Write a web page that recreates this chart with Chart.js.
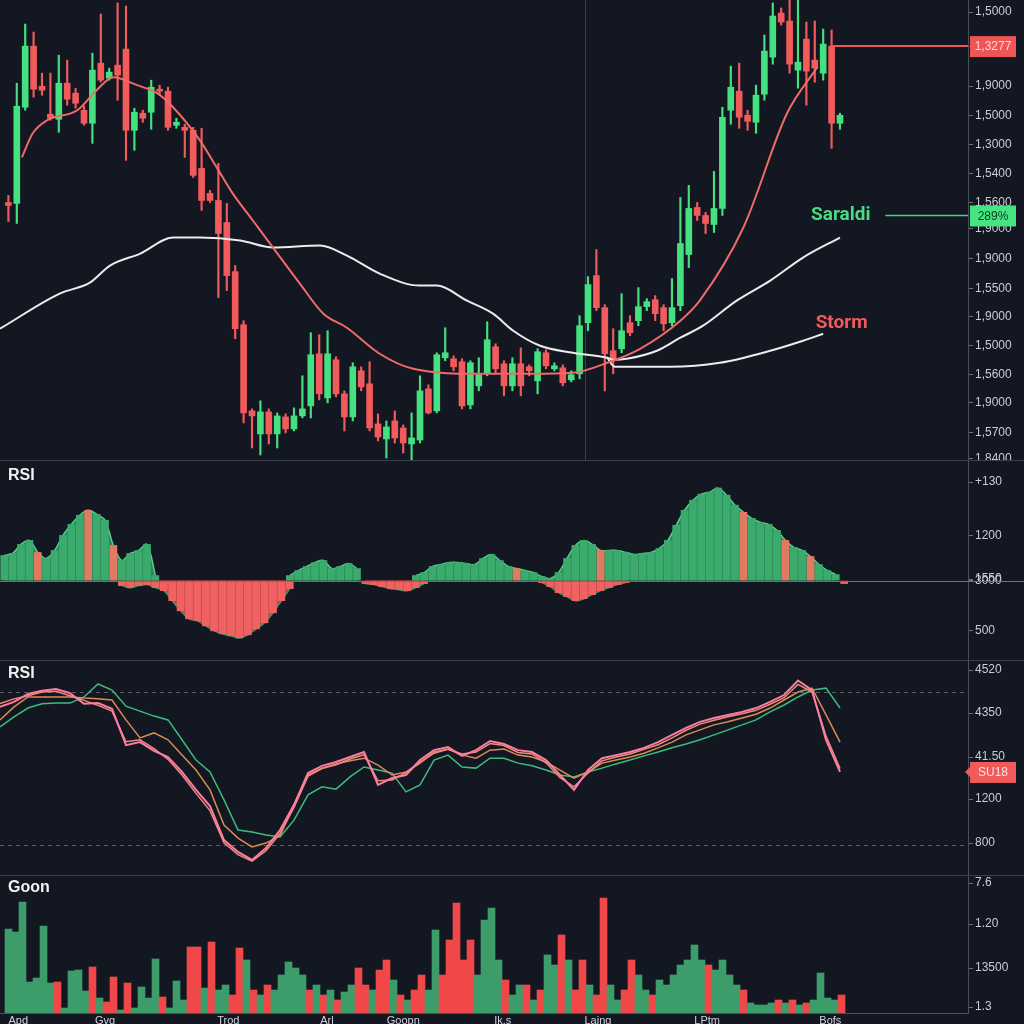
<!DOCTYPE html>
<html>
<head>
<meta charset="utf-8">
<title>Price / RSI / Volume</title>
<script src="https://cdn.jsdelivr.net/npm/chart.js@4.4.1/dist/chart.umd.min.js"></script>
<style>
  html, body { margin: 0; padding: 0; background: #131722; }
  body { width: 1024px; height: 1024px; position: relative; overflow: hidden; }
  canvas { position: absolute; left: 0; }
  .sep { position: absolute; left: 0; width: 1024px; height: 1px; background: #3a3e4a; }
  .title { position: absolute; left: 8px; color: #f2f2f2; font: bold 16px "Liberation Sans", Arial, sans-serif; }
</style>
</head>
<body>
<canvas id="priceChart" width="1024" height="461" style="top:0"></canvas>
<canvas id="histChart" width="1024" height="200" style="top:461px"></canvas>
<canvas id="rsiChart" width="1024" height="214" style="top:661px"></canvas>
<canvas id="volChart" width="1024" height="148" style="top:876px"></canvas>
<div class="sep" style="top:460px"></div>
<div class="sep" style="top:660px"></div>
<div class="sep" style="top:875px"></div>
<div class="title" style="top:466px">RSI</div>
<div class="title" style="top:664px">RSI</div>
<div class="title" style="top:878px">Goon</div>
<script>
// ---- price panel (values in pips above the panel base) ----
const candleOpen  = [258,257,353,414,374,346,341,377,367,350, 337,397,382,395,411,330,347,348,371,369,
                     335,333,330,292,267,260,238,189,136,50, 27,49,27,44,32,45,55,107,63,101,
                     67,44,90,77,37,22,40,33,17,21, 72,50,103,102,99,56,75,88,114,97,
                     75,97,94,80,108,92,93,81,87,138, 185,153,110,112,138,140,154,161,153,138,
                     155,206,253,245,236,252,350,369,345,338, 366,403,447,439,390,421,400,387,414,337];
const candleHigh  = [265,377,436,428,387,387,405,400,372,354, 407,446,392,457,454,352,350,380,375,373,
                     342,336,333,332,270,297,257,195,140,52, 60,52,48,47,53,85,128,126,130,104,
                     70,98,94,99,47,40,50,36,48,85, 76,108,133,105,102,100,103,139,117,100,
                     103,113,96,112,111,98,96,90,145,184, 211,156,132,167,145,173,162,165,156,182,
                     263,275,258,248,289,353,394,397,350,375, 425,457,452,460,460,438,439,431,430,347];
const candleLow   = [239,237,350,363,365,340,328,355,352,335, 317,378,380,360,300,310,338,331,366,330,
                     332,303,283,250,258,163,170,122,38,13, 6,17,13,28,30,43,43,61,58,64,
                     30,40,70,30,20,3,18,8,0,18, 47,48,100,90,52,52,70,85,88,65,
                     70,65,85,67,92,90,75,79,82,130, 150,70,87,108,125,135,150,140,130,135,
                     150,193,240,227,228,245,336,332,330,327, 360,396,435,387,372,355,378,380,312,331];
const candleClose = [255,354,414,371,370,342,377,361,357,337, 390,380,388,385,330,348,342,373,369,333,
                     338,330,285,260,260,227,185,132,48,45, 49,27,45,32,45,52,106,67,107,67,
                     44,94,74,33,24,34,23,18,23,70, 48,106,108,94,55,98,86,121,92,75,
                     97,75,90,109,95,95,78,86,135,176, 153,107,102,130,128,154,159,147,137,153,
                     217,252,245,237,252,343,373,343,339,365, 409,444,438,396,398,389,392,416,337,345];

// moving averages: candle index -> pips
const maSlowIdx = [-1,6.1,9.7,12.1,15.7,19.6,22.8,27.6,31.5,37.1,40.3,44.2,49,51,54.6,57.7,60.1,63.3,67.2,71.3,72,73.6,77.2,80,82.7,86.7,90.7,94.6,99];
const maSlowVal = [132,167,178,195,207,223,223,220,213,215,205,187,175,175,160,147,130,115,108,103,101,102,110,123,135,160,180,203,223];
const maLowIdx  = [71.3,72.2,78.8,84.7,90.7,94.6,97];
const maLowVal  = [103,94,94,98,110,120,127];
const maFastIdx = [1.6,2.9,4.6,8.2,10.5,12.5,15.3,17.7,19.6,22.8,24.8,26.7,29.1,31.5,34.7,37.5,40.3,44.2,48.2,56.1,62.1,67.2,71.3,75.2,80,82.3,87.5,92.7,96.3];
const maFastVal = [303,327,340,350,370,383,375,367,353,320,293,267,240,213,177,147,133,107,92,87,87,88,98,112,140,160,233,347,393];

const priceTickVals   = [448,414,374,345,316,287,258,232,202,172,144,115,86,58,28,2];
const priceTickLabels = ['1,5000','1,5000','1,9000','1,5000','1,3000','1,5400','1,5600','1,9000','1,9000','1,5500','1,9000','1,5000','1,5600','1,9000','1,5700','1,8400'];
const crosshairIdx = 68.6;
const lastLevel = 414, lastLevelText = '1,3277';
const saraldiLevel = 245, saraldiText = '289%';
const stormLevel = 137;

// ---- oscillator histogram ----
const histGreen = [25,27,36,40,28,22,30,45,56,65, 70,66,60,35,20,27,30,36,5,null,
                   null,null,null,null,null,null,null,null,null,null, null,null,null,null,5,10,14,18,20,12,
                   14,17,12,null,null,null,null,null,null,5, 8,14,16,18,18,17,16,22,26,20,
                   14,12,10,8,4,2,8,22,35,40, 36,30,30,30,28,26,27,28,32,40,
                   55,70,80,86,88,92,85,75,68,62, 58,56,50,40,33,30,24,16,10,6, null];
const histRed   = [null,null,null,null,null,null,null,null,null,null, null,null,null,null,-5,-7,-5,-4,-7,-10,
                   -20,-30,-38,-40,-45,-50,-53,-55,-57,-54, -48,-42,-32,-20,-8,null,null,null,null,null,
                   null,null,null,-3,-4,-6,-8,-9,-10,-7, -3,null,null,null,null,null,null,null,null,null,
                   null,null,null,null,-2,-6,-12,-16,-20,-18, -14,-10,-7,-4,-2,null,null,null,null,null,
                   null,null,null,null,null,null,null,null,null,null, null,null,null,null,null,null,null,null,null,null, -3];
const histAccentIdx = [4,10,13,61,71,88,93,96];
const histTickVals   = [98,45,1.5,0,-50];
const histTickLabels = ['+130','1200','1550','3000','500'];

// ---- RSI lines (one point every 14 px step) ----
const rsiPink   = [66.1,67.4,69.5,70.3,70.8,69.7,66.9,67.1,65.6,56.1, 56.9,54.6,53.0,49.1,44.4,40.2,31.3,28.2,26.1,29.2,
                   33.9,40.5,48.8,50.7,51.7,53.0,54.3,45.7,47.5,48.3, 52.2,54.8,55.6,53.3,54.8,57.2,56.4,54.8,54.3,52.2,
                   48.3,44.4,49.6,52.7,53.5,54.3,55.4,56.9,58.8,60.6, 62.2,63.2,64.0,64.8,65.8,67.4,69.2,73.0,70.5,57.5, 49.1];
const rsiLight  = [67.0,68.2,69.0,70.0,70.2,69.0,67.8,66.5,65.0,57.0, 57.5,55.2,52.4,48.3,43.5,39.0,30.6,27.5,25.8,28.5,
                   33.0,39.8,48.0,50.0,51.0,52.5,53.6,46.8,47.0,48.9, 51.6,54.0,55.0,53.8,54.3,56.5,56.0,54.2,53.8,51.5,
                   47.6,45.2,48.8,52.0,53.0,53.8,55.0,56.2,58.0,60.0, 61.6,62.6,63.5,64.3,65.2,66.8,68.5,72.0,70.0,58.5, 50.0];
const rsiOrange = [62.7,66.1,68.7,68.7,68.7,68.7,68.4,68.2,67.9,62.7, 58.0,59.3,57.5,53.5,49.6,44.4,35.2,31.8,29.5,30.5,
                   32.4,40.5,48.3,50.1,51.2,52.0,52.7,50.9,48.3,49.1, 51.4,54.3,55.1,53.5,52.7,54.8,55.1,53.5,53.0,51.7,
                   49.6,47.5,49.1,51.4,52.2,53.0,54.0,55.4,56.9,58.8, 60.1,61.4,62.2,63.2,64.2,65.8,67.9,70.0,71.0,64.0, 56.9];
const rsiGreen  = [60.9,63.5,65.8,66.9,67.1,67.1,68.7,72.1,70.5,66.3, 65.0,63.7,62.7,57.5,52.2,49.1,41.8,33.9,33.4,32.6,
                   32.1,36.5,43.1,45.2,44.6,47.8,50.4,49.6,48.8,43.9, 45.7,52.2,53.5,50.4,50.1,52.7,52.7,51.4,50.7,49.6,
                   48.3,47.8,49.1,50.1,51.2,52.2,53.3,54.3,55.4,56.4, 57.5,58.8,60.1,61.4,62.7,64.8,66.6,68.7,70.5,71.0, 65.8];
const rsiLevels = [70, 30];
const rsiTickVals   = [75.7,64.5,53.0,42.0,30.5];
const rsiTickLabels = ['4520','4350','41.50','1200','800'];
const rsiLastText = 'SU18';

// ---- volume ----
const volume   = [84,81,111,31,35,87,30,31,5,42, 43,22,46,15,11,36,3,30,5,26, 15,54,16,5,32,13,66,66,25,71,
                  23,28,18,65,53,23,18,28,23,38, 51,45,38,23,28,18,23,13,21,28, 45,28,23,43,53,33,18,13,23,38,
                  23,83,38,73,110,53,73,38,93,105, 53,33,18,28,28,13,23,58,48,78, 53,23,53,28,18,115,28,13,23,53,
                  38,23,18,33,28,38,48,53,68,53, 48,43,53,38,28,23,10,8,8,10, 13,10,13,8,10,13,40,15,13,18];
const volumeUp = [1,1,1,1,1,1,1,0,1,1, 1,1,0,1,0,0,1,0,1,1, 1,1,0,1,1,1,0,0,1,0,
                  1,1,0,0,1,0,1,0,1,1, 1,1,1,0,1,0,1,0,1,1, 0,0,1,0,0,1,0,1,0,0,
                  1,1,0,0,0,0,0,1,1,1, 1,0,1,1,0,1,0,1,1,0, 1,0,0,1,0,0,1,1,0,0,
                  1,1,0,1,1,1,1,1,1,1, 0,1,1,1,1,0,1,1,1,1, 0,1,0,1,0,1,1,1,1,0];
const volTickVals   = [130,89,45,6];
const volTickLabels = ['7.6','1.20','13500','1.3'];
const dateTickPos    = [1.4,13.8,31.4,45.5,56.4,70.6,84.2,99.8,117.4];
const dateTickLabels = ['Apd','Gvg','Trod','Arl','Goopn','Ik.s','Laing','LPtm','Bofs'];

const FONT = '"Liberation Sans", Arial, sans-serif';
const GREEN = '#45e07f';
const RED = '#f25b5b';
const AXIS_W = 56;

/**
 * Right-hand value axis with fixed tick positions and labels
 */
function rightAxis(min, max, tickVals, tickLabels) {
    return {
        type: 'linear',
        position: 'right',
        min: min,
        max: max,
        grid: { drawOnChartArea: false, drawTicks: true, tickLength: 5, color: '#6b7080' },
        border: { display: true, color: '#4a4f5c' },
        ticks: {
            autoSkip: false,
            color: '#c9ccd4',
            padding: 2,
            font: { size: 12, family: FONT },
            callback: function(value, index) { return tickLabels[index]; }
        },
        afterBuildTicks: function(scale) {
            scale.ticks = tickVals.map(v => ({ value: v }));
        },
        afterFit: function(scale) {
            scale.width = AXIS_W;
            scale.paddingTop = 0;
            scale.paddingBottom = 0;
        }
    };
}

// index axis: linear, no offset, so index -> pixel is exact
function hiddenX(min, max) {
    return { type: 'linear', min: min, max: max, offset: false, display: false };
}

function drawBadge(chart, value, text, bg, fg, arrow) {
    const { ctx, chartArea, scales } = chart;
    const py = scales.y.getPixelForValue(value);
    const left = chartArea.right + 2;
    ctx.save();
    ctx.fillStyle = bg;
    ctx.fillRect(left, py - 10, 46, 21);
    if (arrow) {
        ctx.beginPath();
        ctx.moveTo(left, py - 5);
        ctx.lineTo(left - 5, py);
        ctx.lineTo(left, py + 5);
        ctx.fill();
    }
    ctx.fillStyle = fg;
    ctx.font = '12px ' + FONT;
    ctx.textAlign = 'center';
    ctx.textBaseline = 'middle';
    ctx.fillText(text, left + 23, py + 1);
    ctx.restore();
}

const baseOptions = {
    responsive: false,
    animation: false,
    events: [],
    layout: { padding: 0 },
    plugins: { legend: { display: false }, tooltip: { enabled: false } }
};

// ---------- price chart ----------
const pricePlugin = {
    id: 'priceExtras',
    beforeDatasetsDraw(chart) {
        const { ctx, chartArea, scales } = chart;
        const px = Math.round(scales.x.getPixelForValue(crosshairIdx)) + 0.5;
        ctx.save();
        ctx.strokeStyle = '#3c404c';
        ctx.lineWidth = 1;
        ctx.beginPath();
        ctx.moveTo(px, chartArea.top);
        ctx.lineTo(px, chartArea.bottom);
        ctx.stroke();
        ctx.restore();
    },
    afterDraw(chart) {
        const { ctx, scales } = chart;
        ctx.save();
        ctx.font = 'bold 19px Roboto, ' + FONT;
        ctx.textAlign = 'center';
        ctx.textBaseline = 'middle';
        ctx.fillStyle = '#4cd884';
        ctx.fillText('Saraldi', scales.x.getPixelForValue(99.1), scales.y.getPixelForValue(saraldiLevel));
        ctx.fillStyle = '#f05a5a';
        ctx.fillText('Storm', scales.x.getPixelForValue(99.2), scales.y.getPixelForValue(stormLevel));
        ctx.restore();
        drawBadge(chart, lastLevel, lastLevelText, '#f05555', '#ffd6d6');
        drawBadge(chart, saraldiLevel, saraldiText, '#46e383', '#0d3b1c');
    }
};

const candleBodies = candleOpen.map((o, i) => ({ x: i, y: [o, candleClose[i]] }));
const candleWicks = candleOpen.map((o, i) => ({ x: i, y: [candleLow[i], candleHigh[i]] }));
const candleColor = ctx => candleClose[ctx.dataIndex] >= candleOpen[ctx.dataIndex] ? GREEN : RED;

new Chart(document.getElementById('priceChart'), {
    type: 'bar',
    data: {
        datasets: [
            { data: candleWicks, backgroundColor: candleColor, barThickness: 1.5, grouped: false, order: 5 },
            { data: candleBodies, backgroundColor: candleColor, barThickness: 6, grouped: false, order: 4 },
            {
                type: 'line', order: 2,
                data: maSlowIdx.map((x, i) => ({ x: x, y: maSlowVal[i] })),
                borderColor: '#ececec', borderWidth: 2, pointRadius: 0, cubicInterpolationMode: 'monotone'
            },
            {
                type: 'line', order: 2,
                data: maLowIdx.map((x, i) => ({ x: x, y: maLowVal[i] })),
                borderColor: '#ececec', borderWidth: 2, pointRadius: 0, cubicInterpolationMode: 'monotone'
            },
            {
                type: 'line', order: 1,
                data: maFastIdx.map((x, i) => ({ x: x, y: maFastVal[i] })),
                borderColor: '#f06a6a', borderWidth: 2, pointRadius: 0, cubicInterpolationMode: 'monotone'
            },
            {
                type: 'line', order: 1,
                data: [{ x: 98, y: lastLevel }, { x: 114.3, y: lastLevel }],
                borderColor: '#f05555', borderWidth: 2, pointRadius: 0
            },
            {
                type: 'line', order: 1,
                data: [{ x: 104.4, y: saraldiLevel }, { x: 114.3, y: saraldiLevel }],
                borderColor: '#46d27c', borderWidth: 1.5, pointRadius: 0
            }
        ]
    },
    options: Object.assign({}, baseOptions, {
        scales: {
            x: hiddenX(-1, 114.24),
            y: rightAxis(0, 460, priceTickVals, priceTickLabels)
        }
    }),
    plugins: [pricePlugin]
});

// ---------- histogram ----------
const zeroLinePlugin = {
    id: 'zeroLine',
    afterDraw(chart) {
        const { ctx, scales } = chart;
        const py = Math.round(scales.y.getPixelForValue(0)) + 0.5;
        ctx.save();
        ctx.strokeStyle = '#6e727d';
        ctx.lineWidth = 1;
        ctx.beginPath();
        ctx.moveTo(0, py);
        ctx.lineTo(chart.width, py);
        ctx.stroke();
        ctx.restore();
    }
};

const toPoints = arr => arr.map((v, i) => ({ x: i, y: v }));

new Chart(document.getElementById('histChart'), {
    type: 'bar',
    data: {
        datasets: [
            {
                type: 'line', order: 5, data: toPoints(histGreen), fill: 'origin',
                backgroundColor: '#2c8656', borderColor: '#58cf8c', borderWidth: 1.5,
                pointRadius: 0, tension: 0.35, spanGaps: false
            },
            {
                type: 'line', order: 5, data: toPoints(histRed), fill: 'origin',
                backgroundColor: '#c04848', borderColor: '#3c9a66', borderWidth: 1.5,
                pointRadius: 0, tension: 0.35, spanGaps: false
            },
            {
                data: toPoints(histGreen), grouped: false, barThickness: 7, order: 3,
                backgroundColor: ctx => histAccentIdx.includes(ctx.dataIndex) ? '#e27a62' : '#3aab6d'
            },
            {
                data: toPoints(histRed), grouped: false, barThickness: 7, order: 3,
                backgroundColor: '#f06262'
            }
        ]
    },
    options: Object.assign({}, baseOptions, {
        scales: {
            x: hiddenX(-0.5, 114.74),
            y: rightAxis(-80, 119, histTickVals, histTickLabels)
        }
    }),
    plugins: [zeroLinePlugin]
});

// ---------- RSI ----------
const rsiPlugin = {
    id: 'rsiExtras',
    beforeDatasetsDraw(chart) {
        const { ctx, chartArea, scales } = chart;
        ctx.save();
        ctx.strokeStyle = '#5a5e6a';
        ctx.lineWidth = 1;
        ctx.setLineDash([4, 4]);
        rsiLevels.forEach(level => {
            const py = Math.round(scales.y.getPixelForValue(level)) + 0.5;
            ctx.beginPath();
            ctx.moveTo(chartArea.left, py);
            ctx.lineTo(chartArea.right, py);
            ctx.stroke();
        });
        ctx.restore();
    },
    afterDraw(chart) {
        drawBadge(chart, rsiPink[rsiPink.length - 1], rsiLastText, '#f05a5a', '#ffdede', true);
    }
};

const rsiLine = (data, color, width, order) => ({
    data: toPoints(data), borderColor: color, borderWidth: width, pointRadius: 0, tension: 0, order: order
});

new Chart(document.getElementById('rsiChart'), {
    type: 'line',
    data: {
        datasets: [
            rsiLine(rsiGreen, '#3dbb7d', 1.5, 4),
            rsiLine(rsiOrange, '#d98c4f', 1.5, 3),
            rsiLine(rsiLight, '#f08a80', 1.5, 2),
            rsiLine(rsiPink, '#ff7ca0', 2, 1)
        ]
    },
    options: Object.assign({}, baseOptions, {
        scales: {
            x: hiddenX(0, 69.14),
            y: rightAxis(22.16, 78.1, rsiTickVals, rsiTickLabels)
        }
    }),
    plugins: [rsiPlugin]
});

// ---------- volume ----------
new Chart(document.getElementById('volChart'), {
    type: 'bar',
    data: {
        datasets: [{
            data: toPoints(volume), grouped: false, barThickness: 7,
            backgroundColor: ctx => volumeUp[ctx.dataIndex] ? '#3c9d6b' : '#f04848'
        }]
    },
    options: Object.assign({}, baseOptions, {
        scales: {
            x: {
                type: 'linear', min: -1.214, max: 137.07, position: 'bottom', offset: false,
                grid: { drawOnChartArea: false, drawTicks: false },
                border: { display: true, color: '#4a4f5c' },
                ticks: {
                    autoSkip: false, maxRotation: 0, padding: 1,
                    color: '#d0d3da', font: { size: 11, family: FONT },
                    callback: function(value, index) { return dateTickLabels[index]; }
                },
                afterBuildTicks: function(scale) {
                    scale.ticks = dateTickPos.map(v => ({ value: v }));
                },
                afterFit: function(scale) {
                    scale.height = 11;
                    scale.paddingLeft = 0;
                    scale.paddingRight = 0;
                }
            },
            y: rightAxis(0, 137, volTickVals, volTickLabels)
        }
    })
});
</script>
</body>
</html>
